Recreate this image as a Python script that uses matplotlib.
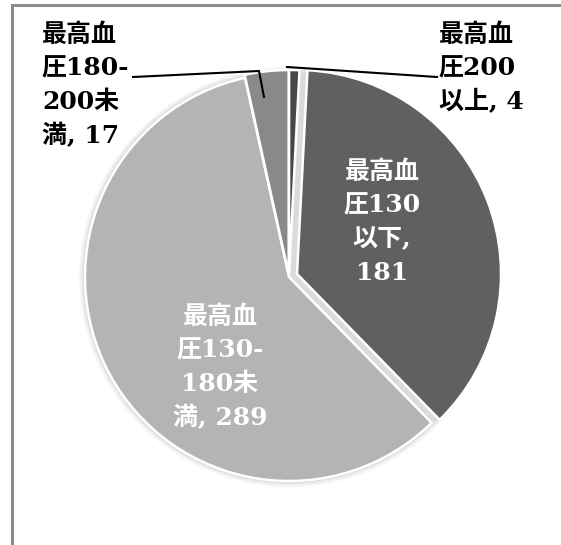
import matplotlib
matplotlib.use("Agg")
import matplotlib.pyplot as plt
from matplotlib.patches import Circle

# ---- data ----
categories = ["最高血\n圧200\n以上, 4", "最高血\n圧130\n以下,\n181",
              "最高血\n圧130-\n180未\n満, 289", "最高血\n圧180-\n200未\n満, 17"]
values = [4, 181, 289, 17]
colors = ["#474747", "#606060", "#b4b4b4", "#898989"]

W, H = 561, 545
fig = plt.figure(figsize=(W / 100, H / 100), dpi=100)
ax = fig.add_axes([0, 0, 1, 1])
ax.set_xlim(0, W)
ax.set_ylim(0, H)
ax.set_aspect("equal")
ax.axis("off")

def Y(y):  # image y (down) -> data y (up)
    return H - y

cx, cy, R = 289, 277, 204

# soft shadow around pie
for i, a in enumerate([0.05, 0.04, 0.03, 0.02]):
    ax.add_patch(Circle((cx, Y(cy)), R + 2 + i * 1.5, color="black", alpha=a, lw=0, zorder=0))

wedges, _ = ax.pie(values, colors=colors, startangle=90, counterclock=False,
                   center=(cx, Y(cy)), radius=R, explode=[3, 8.6, 0, 3],
                   wedgeprops=dict(edgecolor="white", linewidth=1.8), frame=True)
ax.set_xlim(0, W)
ax.set_ylim(0, H)
ax.axis("off")

# frame (only top and left visible)
ax.plot([12, 12, W], [Y(H + 5), Y(4.5), Y(4.5)], color="#8c8c8c", lw=2.2, zorder=5,
        solid_joinstyle="miter")

font = ["DejaVu Serif", "Noto Sans CJK JP"]
pitch = 33.5

def draw_label(text, x, y0, ha, color):
    for i, line in enumerate(text.split("\n")):
        ax.text(x, Y(y0 + i * pitch), line, ha=ha, va="center", color=color,
                fontsize=18, fontweight="bold", family=font, zorder=6)

draw_label(categories[0], 439, 35, "left", "black")
draw_label(categories[1], 382, 172, "center", "white")
draw_label(categories[2], 220, 317, "center", "white")
draw_label(categories[3], 42, 35, "left", "black")

# leader lines
ax.plot([133, 259, 264], [Y(77), Y(71), Y(97)], color="black", lw=1.5, zorder=6)
ax.plot([287, 437], [Y(67), Y(77)], color="black", lw=1.5, zorder=6)

fig.savefig("out.png", dpi=100)
